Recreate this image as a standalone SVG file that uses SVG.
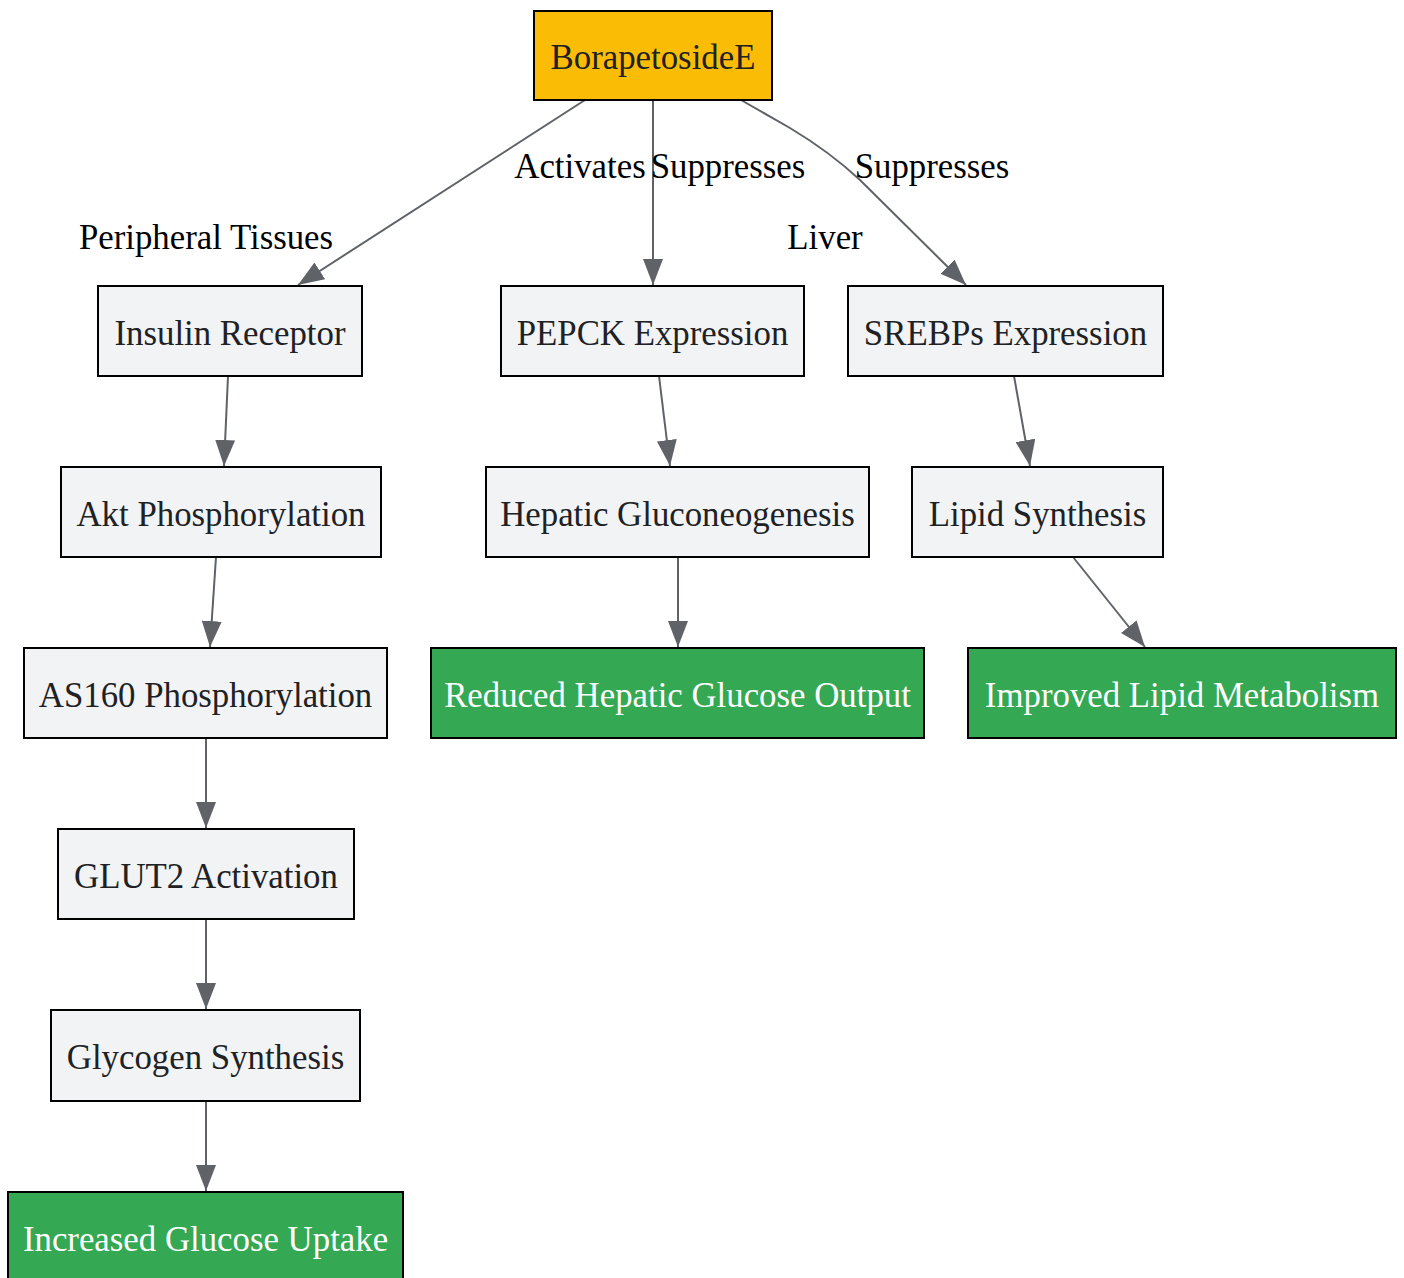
<svg xmlns="http://www.w3.org/2000/svg" width="1404" height="1278" viewBox="0 0 1404 1278">
<style>
.n{stroke:#000;stroke-width:2}
.g{fill:#F1F3F4}
.y{fill:#FBBC05}
.gr{fill:#34A853}
text{font-family:"Liberation Serif","Times New Roman",serif;font-size:34.8px;text-anchor:middle}
.t{fill:#202124}
.w{fill:#FFFFFF}
.l{fill:#000}
.e{fill:none;stroke:#5F6368;stroke-width:2}
</style>
<defs>
<marker id="a" viewBox="0 0 26 20" refX="26" refY="10" markerUnits="userSpaceOnUse" markerWidth="26" markerHeight="20" orient="auto">
<path d="M0,0 L26,10 L0,20 z" fill="#5F6368"/>
</marker>
</defs>
<rect width="1404" height="1278" fill="#fff"/>
<g id="connectors">
<path class="e" d="M585,100 L298,285" marker-end="url(#a)"/>
<path class="e" d="M653,100 L653,285" marker-end="url(#a)"/>
<path class="e" d="M741,100 L790,128 Q830,152 860,180 L966,285" marker-end="url(#a)"/>
<path class="e" d="M228,376 L224,466" marker-end="url(#a)"/>
<path class="e" d="M659,376 L670,466" marker-end="url(#a)"/>
<path class="e" d="M1014,376 L1030,466" marker-end="url(#a)"/>
<path class="e" d="M216,557 L210,647" marker-end="url(#a)"/>
<path class="e" d="M678,557 L678,647" marker-end="url(#a)"/>
<path class="e" d="M1073,557 L1145,647" marker-end="url(#a)"/>
<path class="e" d="M206,738 L206,828" marker-end="url(#a)"/>
<path class="e" d="M206,919 L206,1009" marker-end="url(#a)"/>
<path class="e" d="M206,1101 L206,1191" marker-end="url(#a)"/>
<text class="l" x="206" y="249">Peripheral Tissues</text>
<text class="l" x="580" y="178">Activates</text>
<text class="l" x="728" y="178">Suppresses</text>
<text class="l" x="932" y="178">Suppresses</text>
<text class="l" x="825" y="249">Liver</text>
</g>
<g id="borapetoside"><rect class="n y" x="534" y="11" width="238" height="89"/><text class="t" x="653" y="69">BorapetosideE</text></g>
<g id="insulin"><rect class="n g" x="98" y="286" width="264" height="90"/><text class="t" x="230" y="344.5">Insulin Receptor</text></g>
<g id="pepck"><rect class="n g" x="501" y="286" width="303" height="90"/><text class="t" x="652.5" y="344.5">PEPCK Expression</text></g>
<g id="srebps"><rect class="n g" x="848" y="286" width="315" height="90"/><text class="t" x="1005.5" y="344.5">SREBPs Expression</text></g>
<g id="akt"><rect class="n g" x="61" y="467" width="320" height="90"/><text class="t" x="221" y="525.5">Akt Phosphorylation</text></g>
<g id="hepatic"><rect class="n g" x="486" y="467" width="383" height="90"/><text class="t" x="677.5" y="525.5">Hepatic Gluconeogenesis</text></g>
<g id="lipid"><rect class="n g" x="912" y="467" width="251" height="90"/><text class="t" x="1037.5" y="525.5">Lipid Synthesis</text></g>
<g id="as160"><rect class="n g" x="24" y="648" width="363" height="90"/><text class="t" x="205.5" y="706.5">AS160 Phosphorylation</text></g>
<g id="reduced"><rect class="n gr" x="431" y="648" width="493" height="90"/><text class="w" x="677.5" y="706.5">Reduced Hepatic Glucose Output</text></g>
<g id="improved"><rect class="n gr" x="968" y="648" width="428" height="90"/><text class="w" x="1182" y="706.5">Improved Lipid Metabolism</text></g>
<g id="glut2"><rect class="n g" x="58" y="829" width="296" height="90"/><text class="t" x="206" y="887.5">GLUT2 Activation</text></g>
<g id="glycogen"><rect class="n g" x="51" y="1010" width="309" height="91"/><text class="t" x="205.5" y="1068.5">Glycogen Synthesis</text></g>
<g id="increased"><rect class="n gr" x="8" y="1192" width="395" height="90"/><text class="w" x="205.5" y="1250.5">Increased Glucose Uptake</text></g>
</svg>
